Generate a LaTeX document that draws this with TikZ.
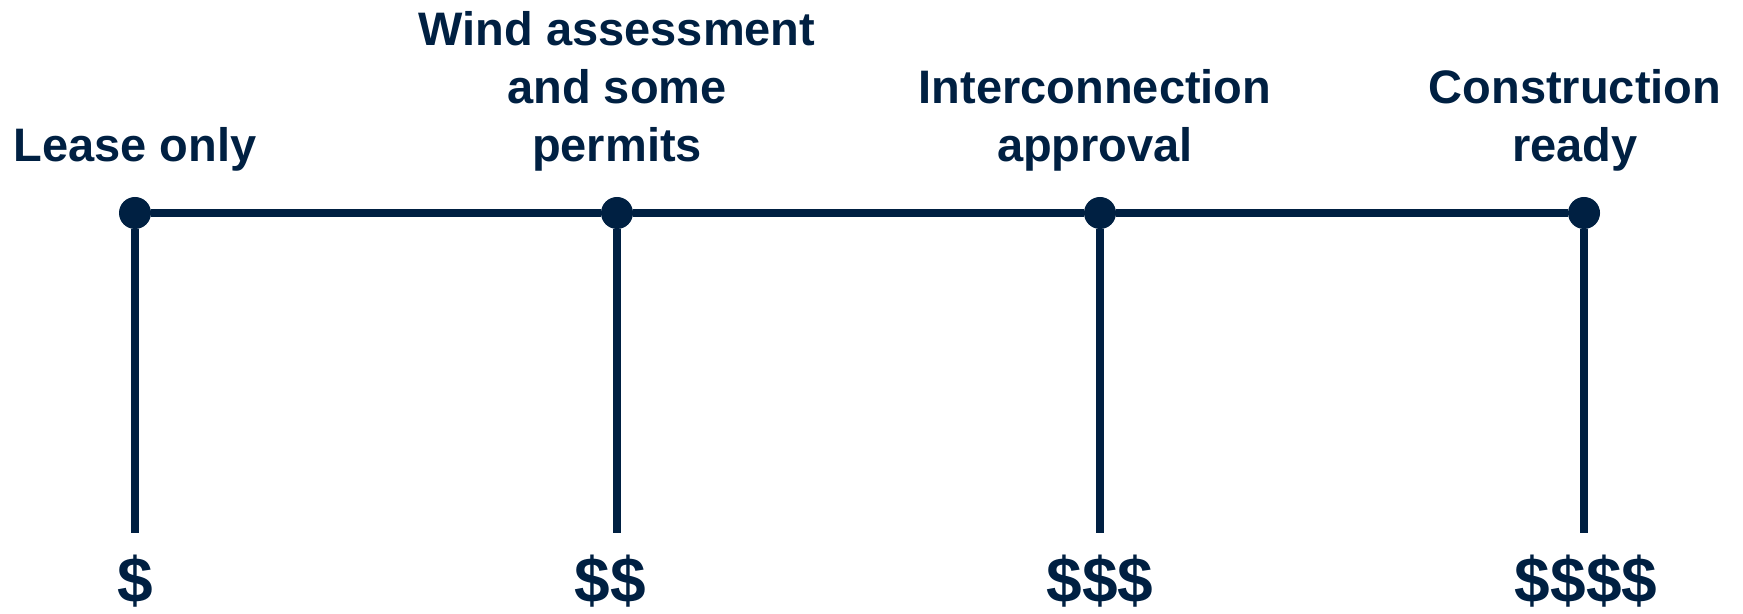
\documentclass[tikz,border=0pt]{standalone}
\usepackage{fontspec}
\setmainfont{Liberation Sans}
\usepackage{tikz}
\usetikzlibrary{positioning}
\definecolor{navy}{RGB}{0,32,66}

\begin{document}
\begin{tikzpicture}[x=0.5pt,y=0.5pt]
	\tikzset{milestone/.style={circle,fill=navy,inner sep=0pt,minimum size=16pt},
		stage/.style={align=center,inner sep=0pt,text=navy,font=\fontsize{23.5}{29}\selectfont\bfseries},
		cost/.style={inner sep=0pt,text=navy,font=\fontsize{32}{38}\selectfont\bfseries},
		bar/.style={draw=navy,line width=4pt}}
	\useasboundingbox (0,0) rectangle (1743,614);

	%% milestones on the line
	\node[milestone] (m1) at (135,401) {};
	\node[milestone] (m2) at (617,401) {};
	\node[milestone] (m3) at (1100,401) {};
	\node[milestone] (m4) at (1584,401) {};
	\coordinate (e1) at (135,81);
	\coordinate (e2) at (617,81);
	\coordinate (e3) at (1100,81);
	\coordinate (e4) at (1584,81);
	\path[bar]
		(m1) edge (m2)
		(m2) edge (m3)
		(m3) edge (m4)
		(m1) edge (e1)
		(m2) edge (e2)
		(m3) edge (e3)
		(m4) edge (e4);

	%% stage labels
	\node[stage,above=12.5pt of m1] (s1) {Lease only};
	\node[stage,above=12.5pt of m2] (s2) {Wind assessment\\and some\\permits};
	\node[stage,above=12.5pt of m3,xshift=-2.5pt] (s3) {Interconnection\\approval};
	\node[stage,above=12.5pt of m4,xshift=-4.5pt] (s4) {Construction\\ready};

	%% costs
	\node[cost] (c1) at (135,33) {\$};
	\node[cost] (c2) at (610,33) {\$\$};
	\node[cost] (c3) at (1100,33) {\$\$\$};
	\node[cost] (c4) at (1586,33) {\$\$\$\$};
\end{tikzpicture}
\end{document}
